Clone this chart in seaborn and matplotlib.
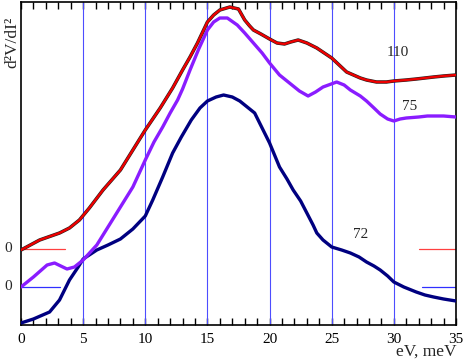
import numpy as np
import pandas as pd
import matplotlib
matplotlib.use("Agg")
import matplotlib.pyplot as plt
import seaborn as sns

# curve "72" (navy)
x72 = [0, 1, 2.3, 3.1, 3.9, 4.6, 5, 6.1, 7, 8, 9, 10, 10.6, 11.4, 12.2, 12.9, 13.7, 14.4,
       15, 15.7, 16.3, 17, 17.6, 18.2, 18.8, 19.4, 20, 20.4, 20.8, 21.4, 21.9, 22.5, 23,
       23.5, 23.8, 24.3, 25, 25.8, 26.5, 27.2, 27.8, 28.4, 28.9, 29.5, 30, 30.8, 31.8,
       32.5, 33.2, 34, 35]
y72 = [2, 6, 13, 25, 45, 58, 66, 75, 80, 86, 96, 109, 125, 148, 172, 188, 205, 217,
       224, 228, 230, 228, 224, 218, 212, 197, 182, 170, 158, 146, 135, 124, 112,
       100, 92, 85, 78, 75, 72, 68, 63, 59, 55, 49, 43, 38, 33,
       30, 28, 26, 24]

# curve "75" (violet)
x75 = [0, 1, 2.1, 2.7, 3.2, 3.7, 4.3, 5, 6.1, 7.2, 8, 9, 10, 10.7, 11.4, 12, 12.6, 13,
       13.6, 14.3, 15, 15.5, 16, 16.6, 17.4, 18, 18.7, 19.4, 20, 20.8, 21.6, 22.4, 23.1,
       23.7, 24.3, 25.4, 26, 26.5, 27.3, 27.8, 28.4, 28.9, 29.5, 30, 30.5, 31, 32, 32.7,
       34, 35]
y75 = [38, 48, 60, 62, 59, 56, 58, 65, 80, 102, 118, 138, 165, 183, 198, 212, 225, 236,
       255, 276, 295, 303, 307, 307, 300, 292, 282, 272, 262, 250, 242, 234, 229,
       233, 238, 243, 240, 235, 229, 224, 217, 211, 206, 204, 206, 207, 208, 209,
       209, 208]

# curve "110" (red)
x110 = [0, 1.5, 3.1, 3.9, 4.7, 5.5, 6.6, 8, 9, 10, 11.2, 12.2, 13, 13.6, 14.2, 15, 15.5,
        16, 16.8, 17.5, 18, 18.4, 18.7, 19.3, 20, 20.6, 21.2, 21.7, 22.3, 23, 23.8, 24.4,
        25, 25.6, 26.2, 27.3, 27.8, 28.6, 29.4, 30, 31, 31.8, 33.2, 34, 35]
y110 = [75, 85, 92, 97, 105, 117, 135, 155, 175, 195, 217, 237, 255, 268, 282, 303, 310,
        315, 318, 316, 305, 299, 295, 291, 286, 282, 281, 283, 285, 282, 277, 272,
        267, 260, 253, 247, 245, 243, 243, 244, 245, 246, 248, 249, 250]

zero_levels = [76, 38]
grid_x = [5, 10, 15, 20, 25, 30]

sns.set_style("white")
plt.rcParams["font.family"] = ["Liberation Serif", "DejaVu Serif"]

fig = plt.figure(figsize=(4.63, 3.61), dpi=100)
ax = fig.add_axes([21 / 463, 36 / 361, 435 / 463, 323 / 361])

for gx in grid_x:
    ax.axvline(gx, color="#4d4dff", lw=0.8, zorder=1)

# zero markers of the shifted curves
ax.plot([0, 3.5], [zero_levels[0]] * 2, color="#ff4040", lw=0.9)
ax.plot([32, 35], [zero_levels[0]] * 2, color="#ff4040", lw=0.9)
ax.plot([0, 3.1], [zero_levels[1]] * 2, color="#3030ff", lw=0.9)
ax.plot([32.3, 35], [zero_levels[1]] * 2, color="#3030ff", lw=0.9)

d72 = pd.DataFrame({"x": x72, "y": y72})
d75 = pd.DataFrame({"x": x75, "y": y75})
d110 = pd.DataFrame({"x": x110, "y": y110})

sns.lineplot(data=d72, x="x", y="y", color="#000080", lw=2.4, ax=ax, zorder=3)
sns.lineplot(data=d75, x="x", y="y", color="#8a1cff", lw=2.4, ax=ax, zorder=3)
sns.lineplot(data=d110, x="x", y="y", color="#202020", lw=2.5, ax=ax, zorder=3)
sns.lineplot(data=d110, x="x", y="y", color="#ee0000", lw=1.7, ax=ax, zorder=4)
for ln in ax.lines:
    ln.set_solid_joinstyle("round")

ax.set_xlim(0, 35)
ax.set_ylim(0, 323)
ax.set_xlabel("")
ax.set_ylabel("")
ax.set_yticks([])
ax.set_xticks([0, 5, 10, 15, 20, 25, 30, 35])
ax.set_xticks(np.arange(0, 36, 1), minor=True)
ax.tick_params(axis="x", which="both", direction="in", top=True, bottom=True,
               length=5, width=1, labelsize=11, pad=6, colors="black")
for s in ax.spines.values():
    s.set_color("black")
    s.set_linewidth(1.2)

for lvl in zero_levels:
    ax.text(-0.7, lvl, "0", ha="right", va="center", fontsize=11)

ax.text(30.3, 273, "110", ha="center", va="center", fontsize=11)
ax.text(31.3, 219, "75", ha="center", va="center", fontsize=11)
ax.text(27.3, 91, "72", ha="center", va="center", fontsize=11)

fig.text(12 / 463, 1 - 42 / 361, "d²V/dI²", rotation=90, ha="center", va="center", fontsize=12.5)
fig.text(456 / 463, 1 - 352 / 361, "eV, meV", ha="right", va="center", fontsize=12.5)

fig.savefig("out.png", dpi=100)
